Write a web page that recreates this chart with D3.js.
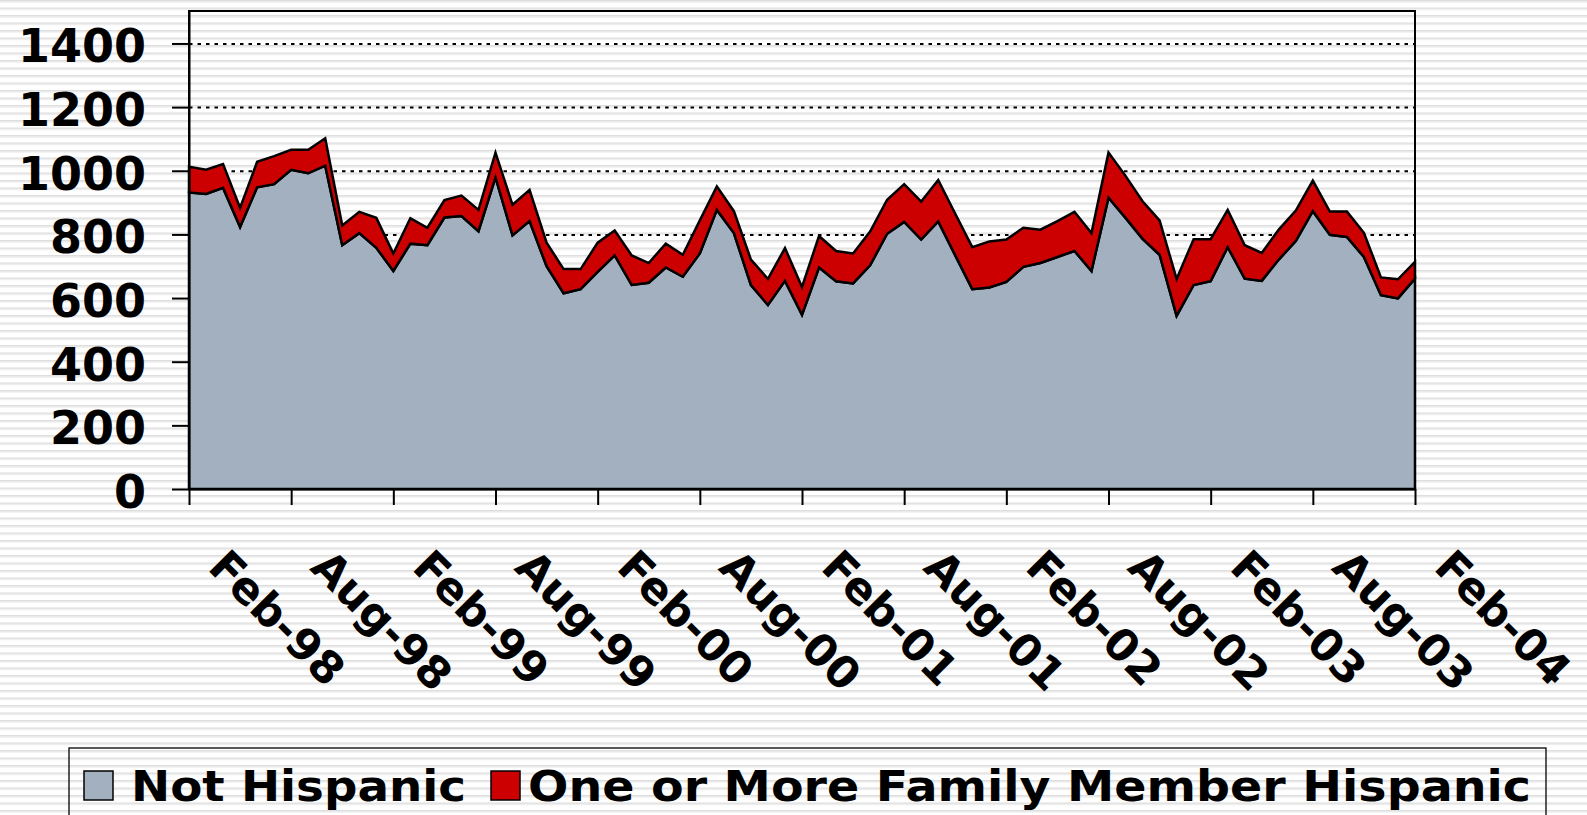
<!DOCTYPE html>
<html>
<head>
<meta charset="utf-8">
<script src="https://d3js.org/d3.v7.min.js"></script>
<style>
  html, body { margin: 0; padding: 0; background: #fff; overflow: hidden; }
  .grid line { stroke: #000; stroke-width: 2; stroke-dasharray: 3.5,5; }
  .grid path { display: none; }
</style>
</head>
<body>
<div id="chart"></div>
<script>
// monthly categories, Feb-98 .. Feb-04
var months = d3.timeMonth.range(new Date(1998, 1, 1), new Date(2004, 2, 1));
var fmtMonth = d3.timeFormat("%b-%y");
var categories = months.map(fmtMonth);

var tickLabels = ["Feb-98", "Aug-98", "Feb-99", "Aug-99", "Feb-00", "Aug-00", "Feb-01",
                  "Aug-01", "Feb-02", "Aug-02", "Feb-03", "Aug-03", "Feb-04"];
var yTicks = [0, 200, 400, 600, 800, 1000, 1200, 1400];

var notHispanic = [932, 927, 946, 823, 948, 958, 1003, 992, 1016, 766, 804, 758,
                   685, 771, 766, 853, 858, 810, 979, 797, 842, 700, 615, 628,
                   682, 734, 641, 648, 696, 667, 740, 877, 804, 641, 578, 654,
                   547, 696, 653, 646, 703, 802, 839, 784, 841, 734, 628, 633,
                   651, 698, 710, 729, 748, 685, 915, 852, 786, 736, 544, 641,
                   653, 760, 661, 654, 721, 779, 873, 799, 792, 729, 609, 599, 661];

var hispanic = [81, 76, 75, 60, 80, 88, 63, 74, 86, 62, 67, 94,
                55, 80, 55, 55, 64, 67, 78, 96, 98, 74, 76, 63,
                92, 78, 93, 62, 75, 69, 104, 74, 69, 80, 82, 103,
                88, 99, 95, 94, 106, 107, 119, 119, 130, 131, 132, 145,
                133, 123, 105, 113, 123, 119, 142, 132, 118, 108, 116, 144,
                132, 117, 105, 88, 94, 96, 96, 73, 80, 76, 56, 60, 53];

var seriesNames = ["Not Hispanic", "One or More Family Member Hispanic"];
var seriesColors = ["#a2b0bf", "#cc0000"];

var W = 1587, H = 815;
var margin = {top: 11, left: 189},
    width = 1226,
    height = 478;

var root = d3.select("#chart")
  .append("svg")
    .attr("width", W)
    .attr("height", H);

// striped background
var pat = root.append("defs").append("pattern")
  .attr("id", "stripes")
  .attr("patternUnits", "userSpaceOnUse")
  .attr("width", 8).attr("height", 7.5);
pat.append("rect").attr("width", 8).attr("height", 7.5).attr("fill", "#ffffff");
pat.append("rect").attr("y", 0).attr("width", 8).attr("height", 1.6).attr("fill", "#dedede");
pat.append("rect").attr("y", 1.6).attr("width", 8).attr("height", 1).attr("fill", "#eeeeee");
root.append("rect").attr("width", W).attr("height", H).attr("fill", "url(#stripes)");

var svg = root.append("g")
  .attr("transform", "translate(" + margin.left + "," + margin.top + ")");

var x = d3.scalePoint()
  .domain(categories)
  .range([0, width])
  .padding(0);

var y = d3.scaleLinear()
  .domain([0, 1502])
  .range([height, 0]);

// gridlines
svg.append("g")
  .attr("class", "grid")
  .call(d3.axisLeft(y).tickValues(yTicks.slice(1)).tickSize(-width).tickFormat(""));

// stacked areas
var table = categories.map(function(c, i) {
  return {month: c, nh: notHispanic[i], h: hispanic[i]};
});
var stacked = d3.stack().keys(["nh", "h"])(table);

var area = d3.area()
  .x(function(d) { return x(d.data.month); })
  .y0(function(d) { return y(d[0]); })
  .y1(function(d) { return y(d[1]); });

svg.selectAll(".layer")
  .data(stacked)
  .enter()
  .append("path")
    .attr("class", "layer")
    .attr("d", area)
    .attr("fill", function(d, i) { return seriesColors[i]; })
    .attr("stroke", "#000")
    .attr("stroke-width", 2.5)
    .attr("stroke-linejoin", "miter");

// plot frame
svg.append("rect")
  .attr("width", width)
  .attr("height", height)
  .attr("fill", "none")
  .attr("stroke", "#000")
  .attr("stroke-width", 2);

// y axis
var yAxis = svg.append("g")
  .call(d3.axisLeft(y).tickValues(yTicks).tickFormat(d3.format("d"))
    .tickSizeInner(17).tickSizeOuter(0).tickPadding(26));
yAxis.select(".domain").attr("stroke-width", 2);
yAxis.selectAll(".tick line").attr("stroke-width", 2);
yAxis.selectAll("text")
  .attr("dy", "0.40em")
  .style("font-family", "'DejaVu Sans', Verdana, sans-serif")
  .style("font-weight", "bold")
  .style("font-size", "46px")
  .attr("fill", "#000");

// x axis
var xAxis = svg.append("g")
  .attr("transform", "translate(0," + height + ")")
  .call(d3.axisBottom(x).tickValues(tickLabels).tickSizeInner(16).tickSizeOuter(0));
xAxis.select(".domain").attr("stroke-width", 2);
xAxis.selectAll(".tick line").attr("stroke-width", 2);
xAxis.selectAll("text")
  .attr("x", 0)
  .attr("y", 0)
  .attr("dy", 0)
  .attr("text-anchor", "start")
  .attr("transform", "translate(17,80)rotate(45)")
  .style("font-family", "'DejaVu Sans', Verdana, sans-serif")
  .style("font-weight", "bold")
  .style("font-size", "44px")
  .attr("fill", "#000");

// legend
var legend = root.append("g");
legend.append("rect")
  .attr("x", 69).attr("y", 748)
  .attr("width", 1477).attr("height", 90)
  .attr("fill", "none")
  .attr("stroke", "#000")
  .attr("stroke-width", 1.3);

var legendItems = [
  {sx: 84, tx: 131, tw: 335},
  {sx: 491, tx: 528, tw: 1003}
];
legendItems.forEach(function(it, i) {
  legend.append("rect")
    .attr("x", it.sx).attr("y", 771)
    .attr("width", 29).attr("height", 29)
    .attr("fill", seriesColors[i])
    .attr("stroke", "#000")
    .attr("stroke-width", 1.5);
  legend.append("text")
    .attr("x", it.tx).attr("y", 801)
    .attr("textLength", it.tw)
    .attr("lengthAdjust", "spacingAndGlyphs")
    .style("font-family", "'DejaVu Sans', Verdana, sans-serif")
    .style("font-weight", "bold")
    .style("font-size", "42px")
    .text(seriesNames[i]);
});
</script>
</body>
</html>
